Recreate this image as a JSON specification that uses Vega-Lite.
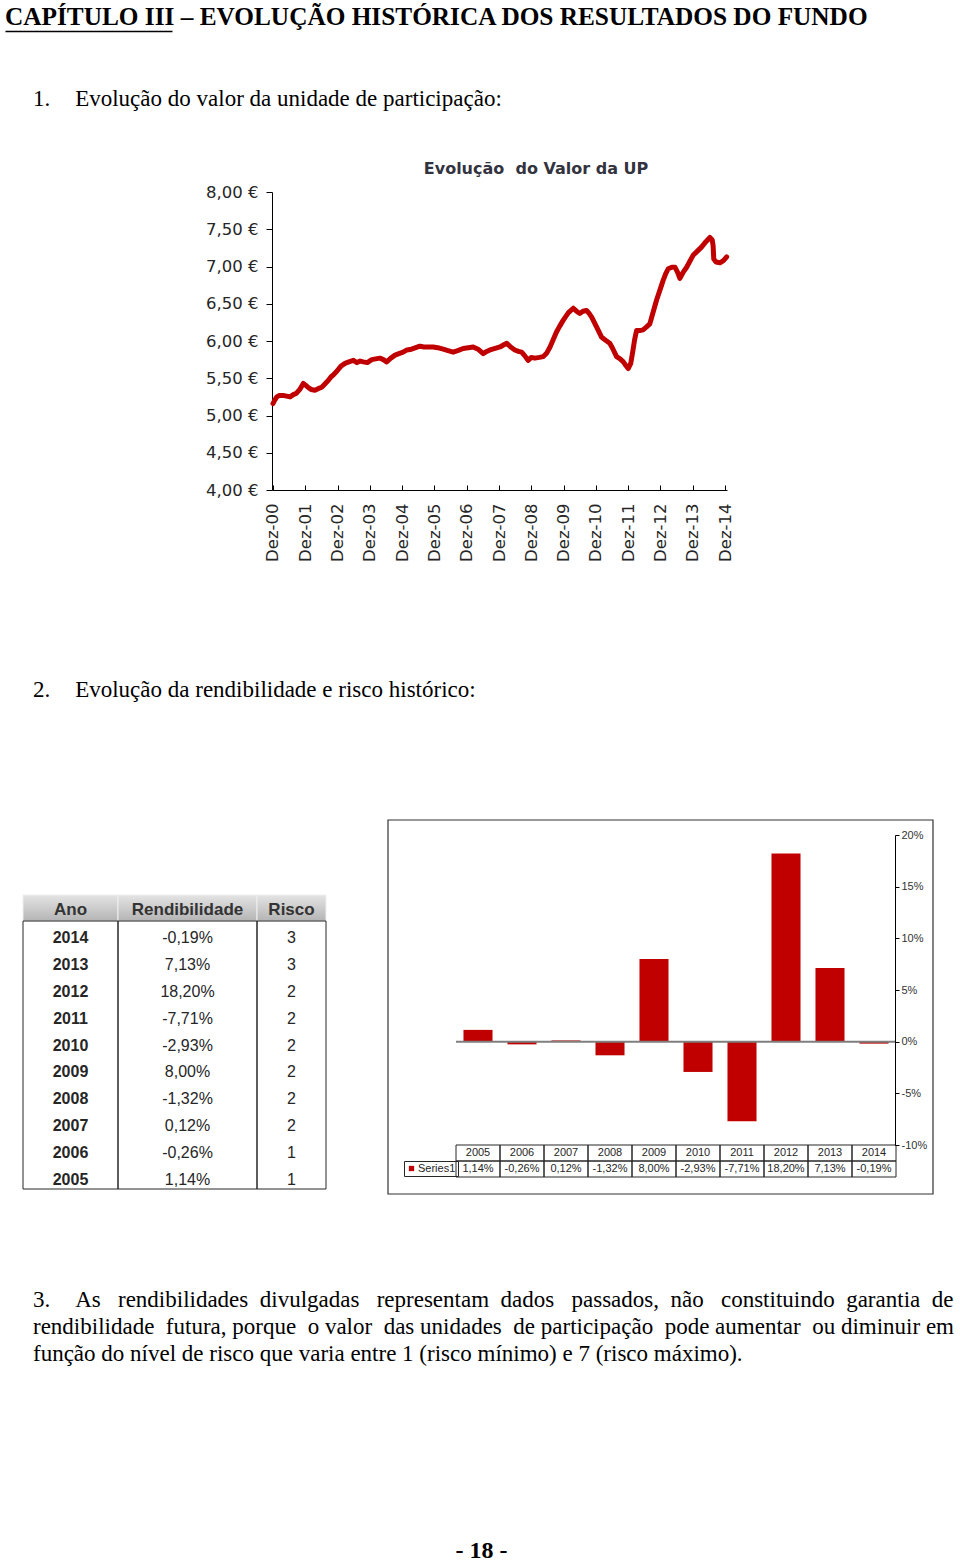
{
  "$schema": "https://vega.github.io/schema/vega-lite/v6.json",
  "padding": 0,
  "background": "white",
  "spacing": 0,
  "bounds": "flush",
  "resolve": {"scale": {"color": "independent"}, "legend": {"color": "independent"}},
  "config": {
    "view": {"stroke": null},
    "concat": {"spacing": 0},
    "font": "Liberation Sans",
    "locale": {"number": {"decimal": ",", "thousands": ".", "grouping": [3], "currency": ["", " €"], "minus": "-"}}
  },
  "datasets": {
    "tab": [
      {"Ano": "2005", "Rend": 0.0114, "Risco": 1},
      {"Ano": "2006", "Rend": -0.0026, "Risco": 1},
      {"Ano": "2007", "Rend": 0.0012, "Risco": 2},
      {"Ano": "2008", "Rend": -0.0132, "Risco": 2},
      {"Ano": "2009", "Rend": 0.08, "Risco": 2},
      {"Ano": "2010", "Rend": -0.0293, "Risco": 2},
      {"Ano": "2011", "Rend": -0.0771, "Risco": 2},
      {"Ano": "2012", "Rend": 0.182, "Risco": 2},
      {"Ano": "2013", "Rend": 0.0713, "Risco": 3},
      {"Ano": "2014", "Rend": -0.0019, "Risco": 3}
    ],
    "up": [
      {"t": 0.00, "v": 5.16}, {"t": 0.06, "v": 5.21}, {"t": 0.12, "v": 5.25}, {"t": 0.20, "v": 5.27}, {"t": 0.31, "v": 5.27},
      {"t": 0.42, "v": 5.26}, {"t": 0.53, "v": 5.25}, {"t": 0.63, "v": 5.28}, {"t": 0.73, "v": 5.30}, {"t": 0.83, "v": 5.35},
      {"t": 0.94, "v": 5.43}, {"t": 1.00, "v": 5.41}, {"t": 1.08, "v": 5.38}, {"t": 1.18, "v": 5.35}, {"t": 1.30, "v": 5.34},
      {"t": 1.40, "v": 5.36}, {"t": 1.51, "v": 5.38}, {"t": 1.60, "v": 5.42}, {"t": 1.71, "v": 5.47}, {"t": 1.80, "v": 5.52},
      {"t": 1.88, "v": 5.55}, {"t": 1.97, "v": 5.59}, {"t": 2.10, "v": 5.66}, {"t": 2.23, "v": 5.70}, {"t": 2.35, "v": 5.72},
      {"t": 2.49, "v": 5.74}, {"t": 2.60, "v": 5.71}, {"t": 2.70, "v": 5.73}, {"t": 2.80, "v": 5.72}, {"t": 2.92, "v": 5.71},
      {"t": 3.06, "v": 5.75}, {"t": 3.18, "v": 5.76}, {"t": 3.31, "v": 5.77}, {"t": 3.42, "v": 5.75}, {"t": 3.52, "v": 5.72},
      {"t": 3.65, "v": 5.77}, {"t": 3.78, "v": 5.81}, {"t": 3.90, "v": 5.83}, {"t": 4.03, "v": 5.85}, {"t": 4.15, "v": 5.88},
      {"t": 4.29, "v": 5.89}, {"t": 4.42, "v": 5.91}, {"t": 4.55, "v": 5.93}, {"t": 4.68, "v": 5.92}, {"t": 4.81, "v": 5.92},
      {"t": 4.96, "v": 5.92}, {"t": 5.10, "v": 5.91}, {"t": 5.27, "v": 5.89}, {"t": 5.42, "v": 5.87}, {"t": 5.58, "v": 5.85},
      {"t": 5.72, "v": 5.87}, {"t": 5.89, "v": 5.90}, {"t": 6.05, "v": 5.91}, {"t": 6.20, "v": 5.92}, {"t": 6.35, "v": 5.89},
      {"t": 6.51, "v": 5.83}, {"t": 6.62, "v": 5.86}, {"t": 6.72, "v": 5.88}, {"t": 6.88, "v": 5.90}, {"t": 7.03, "v": 5.92},
      {"t": 7.15, "v": 5.95}, {"t": 7.24, "v": 5.97}, {"t": 7.36, "v": 5.92}, {"t": 7.49, "v": 5.88}, {"t": 7.60, "v": 5.86},
      {"t": 7.70, "v": 5.85}, {"t": 7.80, "v": 5.80}, {"t": 7.90, "v": 5.74}, {"t": 8.00, "v": 5.78}, {"t": 8.11, "v": 5.77},
      {"t": 8.25, "v": 5.78}, {"t": 8.37, "v": 5.79}, {"t": 8.48, "v": 5.84}, {"t": 8.58, "v": 5.92}, {"t": 8.68, "v": 6.02},
      {"t": 8.78, "v": 6.12}, {"t": 8.88, "v": 6.20}, {"t": 8.99, "v": 6.28}, {"t": 9.15, "v": 6.38}, {"t": 9.30, "v": 6.44},
      {"t": 9.40, "v": 6.40}, {"t": 9.50, "v": 6.37}, {"t": 9.60, "v": 6.40}, {"t": 9.71, "v": 6.41}, {"t": 9.79, "v": 6.37},
      {"t": 9.87, "v": 6.32}, {"t": 9.95, "v": 6.25}, {"t": 10.02, "v": 6.19}, {"t": 10.10, "v": 6.12}, {"t": 10.18, "v": 6.05},
      {"t": 10.30, "v": 6.01}, {"t": 10.43, "v": 5.97}, {"t": 10.52, "v": 5.90}, {"t": 10.64, "v": 5.79}, {"t": 10.75, "v": 5.76},
      {"t": 10.85, "v": 5.72}, {"t": 10.93, "v": 5.67}, {"t": 11.00, "v": 5.63}, {"t": 11.08, "v": 5.70}, {"t": 11.15, "v": 5.88},
      {"t": 11.20, "v": 6.02}, {"t": 11.26, "v": 6.14}, {"t": 11.36, "v": 6.14}, {"t": 11.46, "v": 6.15}, {"t": 11.57, "v": 6.19},
      {"t": 11.67, "v": 6.23}, {"t": 11.78, "v": 6.40}, {"t": 11.88, "v": 6.55}, {"t": 11.98, "v": 6.68}, {"t": 12.08, "v": 6.81},
      {"t": 12.16, "v": 6.90}, {"t": 12.24, "v": 6.97}, {"t": 12.35, "v": 6.99}, {"t": 12.45, "v": 6.99}, {"t": 12.53, "v": 6.92},
      {"t": 12.60, "v": 6.84}, {"t": 12.70, "v": 6.92}, {"t": 12.81, "v": 6.99}, {"t": 12.91, "v": 7.07}, {"t": 13.01, "v": 7.15},
      {"t": 13.15, "v": 7.21}, {"t": 13.27, "v": 7.26}, {"t": 13.40, "v": 7.33}, {"t": 13.53, "v": 7.39}, {"t": 13.60, "v": 7.36},
      {"t": 13.63, "v": 7.28}, {"t": 13.65, "v": 7.10}, {"t": 13.72, "v": 7.06}, {"t": 13.84, "v": 7.05}, {"t": 13.95, "v": 7.08},
      {"t": 14.05, "v": 7.13}
    ]
  },
  "vconcat": [
    {"width": 960, "height": 28, "data": {"values": []}, "mark": "point"},
    {
      "width": 960, "height": 3,
      "data": {"values": [{"u": 0}, {"u": 1}]},
      "mark": {"type": "point", "opacity": 0},
      "encoding": {
        "x": {"field": "u", "type": "quantitative", "scale": {"domain": [0, 1], "range": [5, 172]},
              "axis": {"domain": true, "domainColor": "#000", "domainWidth": 1.5, "ticks": false, "labels": false, "grid": false, "title": null}}
      },
      "title": {"text": "CAPÍTULO III – EVOLUÇÃO HISTÓRICA DOS RESULTADOS DO FUNDO", "orient": "top", "anchor": "start", "frame": "group", "baseline": "alphabetic", "offset": 1, "dx": 5, "dy": 25, "font": "Liberation Serif", "fontSize": 25.3, "fontWeight": "bold", "color": "#000"}
    },
    {"width": 960, "height": 76, "data": {"values": []}, "mark": "point"},
    {
      "width": 960, "height": 68, "data": {"values": []}, "mark": "point",
      "title": {"text": "1.\u00a0\u00a0\u00a0\u00a0\u200aEvolução do valor da unidade de participação:", "orient": "top", "anchor": "start", "frame": "group", "baseline": "alphabetic", "offset": 1, "dx": 33, "dy": 23, "font": "Liberation Serif", "fontSize": 23, "fontWeight": "normal", "color": "#000"}
    },
    {
      "width": 960, "height": 17, "data": {"values": []}, "mark": "point",
      "title": {"text": "Evolução\u00a0 do Valor da UP", "orient": "top", "anchor": "middle", "frame": "group", "baseline": "alphabetic", "offset": 1, "dx": 56, "dy": 16, "font": "DejaVu Sans", "fontSize": 16, "fontWeight": "bold", "color": "#333340"}
    },
    {
      "width": 960, "height": 298,
      "data": {"name": "up"},
      "mark": {"type": "line", "color": "#c00000", "strokeWidth": 5, "strokeJoin": "round", "strokeCap": "round"},
      "encoding": {
        "x": {"field": "t", "type": "quantitative", "scale": {"domain": [-0.03, 14.06], "range": [272, 727], "nice": false, "zero": false},
              "axis": {"values": [0,1,2,3,4,5,6,7,8,9,10,11,12,13,14],
                       "labelExpr": "'Dez-' + (datum.value < 10 ? '0' : '') + datum.value",
                       "labelAngle": 270, "labelFont": "DejaVu Sans", "labelFontSize": 16.5, "labelColor": "#262626", "labelPadding": 18,
                       "tickSize": -5, "tickColor": "#000", "domainColor": "#000", "grid": false, "title": null,
                       "labelFlush": false, "labelOverlap": false, "labelBound": false}},
        "y": {"field": "v", "type": "quantitative", "scale": {"domain": [4, 8], "nice": false, "zero": false},
              "axis": {"offset": -272, "values": [4, 4.5, 5, 5.5, 6, 6.5, 7, 7.5, 8], "format": "$.2f",
                       "labelFont": "DejaVu Sans", "labelFontSize": 16.5, "labelColor": "#262626", "tickSize": 6, "labelPadding": 8,
                       "tickColor": "#000", "domainColor": "#000", "grid": false, "title": null, "labelFlush": false, "labelOverlap": false}}
      }
    },
    {"width": 960, "height": 208, "data": {"values": []}, "mark": "point"},
    {
      "width": 960, "height": 122, "data": {"values": []}, "mark": "point",
      "title": {"text": "2.\u00a0\u00a0\u00a0\u00a0\u200aEvolução da rendibilidade e risco histórico:", "orient": "top", "anchor": "start", "frame": "group", "baseline": "alphabetic", "offset": 1, "dx": 33, "dy": 23, "font": "Liberation Serif", "fontSize": 23, "fontWeight": "normal", "color": "#000"}
    },
    {
      "width": 960, "height": 374,
      "data": {"name": "tab"},
      "resolve": {"scale": {"x": "independent", "y": "independent"}},
      "layer": [
        {
          "data": {"values": [{}]},
          "mark": {"type": "rect", "fill": "transparent", "stroke": "#333333", "strokeWidth": 1.2},
          "encoding": {"x": {"datum": "box", "type": "nominal", "scale": {"type": "band", "range": [388, 933], "paddingInner": 0, "paddingOuter": 0}, "axis": null}}
        },
        {
          "mark": {"type": "bar", "width": {"band": 0.66}},
          "encoding": {
            "x": {"field": "Ano", "type": "ordinal", "scale": {"type": "band", "range": [456, 896], "paddingInner": 0, "paddingOuter": 0}, "axis": null},
            "y": {"field": "Rend", "type": "quantitative", "scale": {"domain": [-0.1, 0.2], "range": [325, 15], "nice": false},
                  "axis": {"orient": "right", "offset": -65, "zindex": 2, "values": [-0.1, -0.05, 0, 0.05, 0.1, 0.15, 0.2], "format": ".0%",
                           "tickSize": 4, "labelFontSize": 11, "labelColor": "#333", "labelPadding": 2, "domainColor": "#000",
                           "tickColor": "#000", "grid": false, "title": null, "labelFlush": false, "labelOverlap": false}},
            "color": {"datum": "Series1", "type": "nominal", "scale": {"range": ["#c00000"]},
                      "legend": {"orient": "none", "legendX": 404, "legendY": 341, "title": null, "symbolType": "square",
                                 "symbolSize": 28, "symbolStrokeWidth": 0, "labelFontSize": 11, "labelColor": "#262626",
                                 "labelOffset": 1, "padding": 2, "strokeColor": "#262626"}}
          }
        },
        {
          "mark": {"type": "rect", "fill": "transparent", "stroke": "#7f7f7f", "strokeWidth": 2},
          "encoding": {
            "x": {"field": "Ano", "type": "ordinal", "scale": {"type": "band", "range": [456, 896], "paddingInner": 0, "paddingOuter": 0}, "axis": null},
            "y": {"datum": 0, "type": "quantitative", "scale": {"domain": [-0.1, 0.2], "range": [325, 15], "nice": false}, "axis": null},
            "y2": {"datum": 0}
          }
        },
        {
          "mark": {"type": "rect", "fill": "transparent", "stroke": "#262626", "strokeWidth": 1},
          "encoding": {
            "x": {"field": "Ano", "type": "ordinal", "scale": {"type": "band", "range": [456, 896], "paddingInner": 0, "paddingOuter": 0}, "axis": null},
            "y": {"datum": "ano", "type": "nominal", "scale": {"type": "band", "range": [325, 341], "paddingInner": 0, "paddingOuter": 0}, "axis": null}
          }
        },
        {
          "mark": {"type": "rect", "fill": "transparent", "stroke": "#262626", "strokeWidth": 1},
          "encoding": {
            "x": {"field": "Ano", "type": "ordinal", "scale": {"type": "band", "range": [456, 896], "paddingInner": 0, "paddingOuter": 0}, "axis": null},
            "y": {"datum": "val", "type": "nominal", "scale": {"type": "band", "range": [341, 357], "paddingInner": 0, "paddingOuter": 0}, "axis": null}
          }
        },
        {
          "mark": {"type": "text", "fontSize": 11, "color": "#262626"},
          "encoding": {
            "x": {"field": "Ano", "type": "ordinal", "scale": {"type": "band", "range": [456, 896], "paddingInner": 0, "paddingOuter": 0}, "axis": null},
            "y": {"datum": "ano", "type": "nominal", "scale": {"type": "band", "range": [325, 341], "paddingInner": 0, "paddingOuter": 0}, "axis": null},
            "text": {"field": "Ano", "type": "nominal"}
          }
        },
        {
          "mark": {"type": "text", "fontSize": 11, "color": "#262626"},
          "encoding": {
            "x": {"field": "Ano", "type": "ordinal", "scale": {"type": "band", "range": [456, 896], "paddingInner": 0, "paddingOuter": 0}, "axis": null},
            "y": {"datum": "val", "type": "nominal", "scale": {"type": "band", "range": [341, 357], "paddingInner": 0, "paddingOuter": 0}, "axis": null},
            "text": {"field": "Rend", "type": "quantitative", "format": ".2%"}
          }
        },
        {
          "data": {"values": [{}]},
          "mark": {"type": "rect", "fill": {"gradient": "linear", "x1": 0, "y1": 0, "x2": 0, "y2": 1, "stops": [{"offset": 0, "color": "#e4e4e4"}, {"offset": 1, "color": "#b4b4b4"}]}, "stroke": "#efefef", "strokeWidth": 1},
          "encoding": {
            "x": {"datum": "c", "type": "nominal", "scale": {"type": "band", "range": [23, 118], "paddingInner": 0, "paddingOuter": 0}, "axis": null},
            "y": {"datum": "h", "type": "nominal", "scale": {"type": "band", "range": [75, 101], "paddingInner": 0, "paddingOuter": 0}, "axis": null}
          }
        },
        {
          "data": {"values": [{}]},
          "mark": {"type": "rect", "fill": {"gradient": "linear", "x1": 0, "y1": 0, "x2": 0, "y2": 1, "stops": [{"offset": 0, "color": "#e4e4e4"}, {"offset": 1, "color": "#b4b4b4"}]}, "stroke": "#efefef", "strokeWidth": 1},
          "encoding": {
            "x": {"datum": "c", "type": "nominal", "scale": {"type": "band", "range": [118, 257], "paddingInner": 0, "paddingOuter": 0}, "axis": null},
            "y": {"datum": "h", "type": "nominal", "scale": {"type": "band", "range": [75, 101], "paddingInner": 0, "paddingOuter": 0}, "axis": null}
          }
        },
        {
          "data": {"values": [{}]},
          "mark": {"type": "rect", "fill": {"gradient": "linear", "x1": 0, "y1": 0, "x2": 0, "y2": 1, "stops": [{"offset": 0, "color": "#e4e4e4"}, {"offset": 1, "color": "#b4b4b4"}]}, "stroke": "#efefef", "strokeWidth": 1},
          "encoding": {
            "x": {"datum": "c", "type": "nominal", "scale": {"type": "band", "range": [257, 326], "paddingInner": 0, "paddingOuter": 0}, "axis": null},
            "y": {"datum": "h", "type": "nominal", "scale": {"type": "band", "range": [75, 101], "paddingInner": 0, "paddingOuter": 0}, "axis": null}
          }
        },
        {
          "data": {"values": [{"h": "Ano"}]},
          "mark": {"type": "text", "fontSize": 17, "fontWeight": "bold", "color": "#333", "dy": 2},
          "encoding": {
            "x": {"datum": "c", "type": "nominal", "scale": {"type": "band", "range": [23, 118], "paddingInner": 0, "paddingOuter": 0}, "axis": null},
            "y": {"datum": "h", "type": "nominal", "scale": {"type": "band", "range": [75, 101], "paddingInner": 0, "paddingOuter": 0}, "axis": null},
            "text": {"field": "h", "type": "nominal"}
          }
        },
        {
          "data": {"values": [{"h": "Rendibilidade"}]},
          "mark": {"type": "text", "fontSize": 17, "fontWeight": "bold", "color": "#333", "dy": 2},
          "encoding": {
            "x": {"datum": "c", "type": "nominal", "scale": {"type": "band", "range": [118, 257], "paddingInner": 0, "paddingOuter": 0}, "axis": null},
            "y": {"datum": "h", "type": "nominal", "scale": {"type": "band", "range": [75, 101], "paddingInner": 0, "paddingOuter": 0}, "axis": null},
            "text": {"field": "h", "type": "nominal"}
          }
        },
        {
          "data": {"values": [{"h": "Risco"}]},
          "mark": {"type": "text", "fontSize": 17, "fontWeight": "bold", "color": "#333", "dy": 2},
          "encoding": {
            "x": {"datum": "c", "type": "nominal", "scale": {"type": "band", "range": [257, 326], "paddingInner": 0, "paddingOuter": 0}, "axis": null},
            "y": {"datum": "h", "type": "nominal", "scale": {"type": "band", "range": [75, 101], "paddingInner": 0, "paddingOuter": 0}, "axis": null},
            "text": {"field": "h", "type": "nominal"}
          }
        },
        {
          "data": {"values": [{}]},
          "mark": {"type": "rect", "fill": "transparent", "stroke": "#262626", "strokeWidth": 1},
          "encoding": {
            "x": {"datum": "c", "type": "nominal", "scale": {"type": "band", "range": [23, 118], "paddingInner": 0, "paddingOuter": 0}, "axis": null},
            "y": {"datum": "b", "type": "nominal", "scale": {"type": "band", "range": [101, 369], "paddingInner": 0, "paddingOuter": 0}, "axis": null}
          }
        },
        {
          "data": {"values": [{}]},
          "mark": {"type": "rect", "fill": "transparent", "stroke": "#262626", "strokeWidth": 1},
          "encoding": {
            "x": {"datum": "c", "type": "nominal", "scale": {"type": "band", "range": [118, 257], "paddingInner": 0, "paddingOuter": 0}, "axis": null},
            "y": {"datum": "b", "type": "nominal", "scale": {"type": "band", "range": [101, 369], "paddingInner": 0, "paddingOuter": 0}, "axis": null}
          }
        },
        {
          "data": {"values": [{}]},
          "mark": {"type": "rect", "fill": "transparent", "stroke": "#262626", "strokeWidth": 1},
          "encoding": {
            "x": {"datum": "c", "type": "nominal", "scale": {"type": "band", "range": [257, 326], "paddingInner": 0, "paddingOuter": 0}, "axis": null},
            "y": {"datum": "b", "type": "nominal", "scale": {"type": "band", "range": [101, 369], "paddingInner": 0, "paddingOuter": 0}, "axis": null}
          }
        },
        {
          "mark": {"type": "text", "fontSize": 16, "fontWeight": "bold", "color": "#262626", "dy": 4},
          "encoding": {
            "x": {"datum": "c", "type": "nominal", "scale": {"type": "band", "range": [23, 118], "paddingInner": 0, "paddingOuter": 0}, "axis": null},
            "y": {"field": "Ano", "type": "ordinal", "scale": {"type": "band", "domain": ["2014","2013","2012","2011","2010","2009","2008","2007","2006","2005"], "range": [101, 369], "paddingInner": 0, "paddingOuter": 0}, "axis": null},
            "text": {"field": "Ano", "type": "nominal"}
          }
        },
        {
          "mark": {"type": "text", "fontSize": 16, "color": "#262626", "dy": 4},
          "encoding": {
            "x": {"datum": "c", "type": "nominal", "scale": {"type": "band", "range": [118, 257], "paddingInner": 0, "paddingOuter": 0}, "axis": null},
            "y": {"field": "Ano", "type": "ordinal", "scale": {"type": "band", "domain": ["2014","2013","2012","2011","2010","2009","2008","2007","2006","2005"], "range": [101, 369], "paddingInner": 0, "paddingOuter": 0}, "axis": null},
            "text": {"field": "Rend", "type": "quantitative", "format": ".2%"}
          }
        },
        {
          "mark": {"type": "text", "fontSize": 16, "color": "#262626", "dy": 4},
          "encoding": {
            "x": {"datum": "c", "type": "nominal", "scale": {"type": "band", "range": [257, 326], "paddingInner": 0, "paddingOuter": 0}, "axis": null},
            "y": {"field": "Ano", "type": "ordinal", "scale": {"type": "band", "domain": ["2014","2013","2012","2011","2010","2009","2008","2007","2006","2005"], "range": [101, 369], "paddingInner": 0, "paddingOuter": 0}, "axis": null},
            "text": {"field": "Risco", "type": "nominal"}
          }
        }
      ]
    },
    {"width": 960, "height": 114, "data": {"values": []}, "mark": "point"},
    {
      "width": 960, "height": 251, "data": {"values": []}, "mark": "point",
      "title": {
        "text": [
          "3.\u00a0\u00a0\u00a0\u00a0\u200aAs \u00a0\u00a0rendibilidades \u00a0divulgadas \u00a0\u00a0representam \u00a0dados \u00a0\u00a0passados, \u00a0não \u00a0\u00a0constituindo \u00a0garantia \u00a0de",
          "rendibilidade \u00a0futura, porque \u00a0o valor \u00a0das unidades \u00a0de participação \u00a0pode aumentar \u00a0ou diminuir em",
          "função do nível de risco que varia entre 1 (risco mínimo) e 7 (risco máximo)."
        ],
        "orient": "top", "anchor": "start", "frame": "group", "baseline": "alphabetic", "offset": 1, "dx": 33, "dy": 77, "lineHeight": 27,
        "font": "Liberation Serif", "fontSize": 23, "fontWeight": "normal", "color": "#000"
      }
    },
    {
      "width": 960, "height": 2, "data": {"values": []}, "mark": "point",
      "title": {"text": "- 18 -", "orient": "top", "anchor": "middle", "frame": "group", "baseline": "alphabetic", "offset": 1, "dx": 1.5, "dy": 24, "font": "Liberation Serif", "fontSize": 24, "fontWeight": "bold", "color": "#000"}
    }
  ]
}
